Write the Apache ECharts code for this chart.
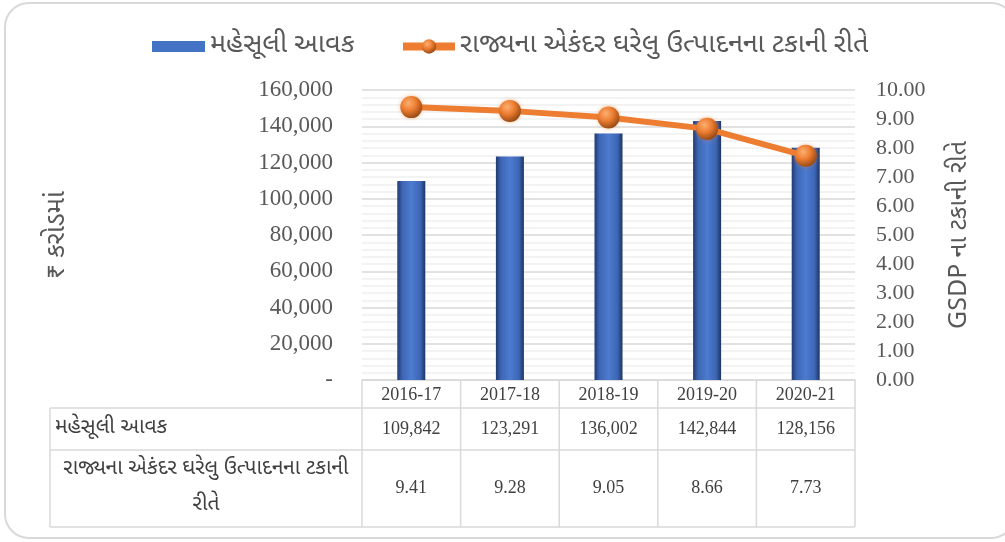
<!DOCTYPE html>
<html lang="gu">
<head>
    <meta charset="UTF-8">
    <title>મહેસૂલી આવક</title>
    <style>
        html, body { margin: 0; padding: 0; background: #fff; }
        #chart { width: 1005px; height: 542px; }
    </style>
</head>
<body>
    <div id="chart"></div>
    <script src="https://cdn.jsdelivr.net/npm/echarts@6/dist/echarts.min.js"></script>
    <script>
        // ડેટા
        let years = ['2016-17', '2017-18', '2018-19', '2019-20', '2020-21'];
        let revenue = [109842, 123291, 136002, 142844, 128156];
        let gsdpPct = [9.41, 9.28, 9.05, 8.66, 7.73];
        let seriesNames = ['મહેસૂલી આવક', 'રાજ્યના એકંદર ઘરેલુ ઉત્પાદનના ટકાની રીતે'];
        let rowLabels = ['મહેસૂલી આવક', 'રાજ્યના એકંદર ઘરેલુ ઉત્પાદનના ટકાની\nરીતે'];
        let leftAxisName = '₹ કરોડમાં';
        let rightAxisName = 'GSDP ના ટકાની રીતે';

        let guFont = '"Noto Sans Gujarati", "Noto Sans", sans-serif';
        let numFont = '"Liberation Serif", "DejaVu Serif", serif';

        let myChart = echarts.init(document.getElementById('chart'));

        let barColor = new echarts.graphic.LinearGradient(0, 0, 1, 0, [
            { offset: 0, color: '#1f3a70' },
            { offset: 0.18, color: '#3d66b4' },
            { offset: 0.5, color: '#4d7bd0' },
            { offset: 0.82, color: '#3d66b4' },
            { offset: 1, color: '#1c3464' }
        ]);
        let ballColor = new echarts.graphic.RadialGradient(0.38, 0.32, 0.75, [
            { offset: 0, color: '#fbb072' },
            { offset: 0.45, color: '#ed7d31' },
            { offset: 1, color: '#8a4210' }
        ]);

        let legendText = { fontFamily: guFont, fontSize: 27, color: '#595959' };

        let option = {
            animation: false,
            legend: [
                {
                    left: 147,
                    top: 28,
                    itemWidth: 53,
                    itemHeight: 11,
                    itemGap: 5,
                    textStyle: legendText,
                    data: [{ name: seriesNames[0], icon: 'rect', itemStyle: { color: '#4472c4' } }]
                },
                {
                    left: 394,
                    top: 28,
                    itemWidth: 52,
                    itemHeight: 18,
                    itemGap: 5,
                    textStyle: legendText,
                    lineStyle: { width: 8 },
                    data: [{ name: seriesNames[1] }]
                }
            ],
            grid: { left: 362, right: 150, top: 90, bottom: 162, containLabel: false },
            xAxis: {
                type: 'category',
                data: years,
                boundaryGap: true,
                axisLine: { lineStyle: { color: '#d9d9d9', width: 1.5 } },
                axisTick: { show: false },
                axisLabel: { margin: 6, fontFamily: numFont, fontSize: 18, color: '#404040' }
            },
            yAxis: [
                {
                    type: 'value',
                    min: 0,
                    max: 160000,
                    interval: 20000,
                    name: leftAxisName,
                    nameLocation: 'middle',
                    nameRotate: 90,
                    nameGap: 290,
                    nameTextStyle: { fontFamily: guFont, fontSize: 26, color: '#595959' },
                    axisLine: { show: false },
                    axisTick: { show: false },
                    axisLabel: {
                        margin: 29,
                        fontFamily: numFont,
                        fontSize: 23,
                        color: '#595959',
                        formatter: function (v) { return v === 0 ? '-' : v.toLocaleString('en-US'); }
                    },
                    splitLine: { lineStyle: { color: '#d9d9d9', width: 1.5 } },
                    minorTick: { show: false, splitNumber: 5 },
                    minorSplitLine: { show: true, lineStyle: { color: '#efefef', width: 1.5 } }
                },
                {
                    type: 'value',
                    min: 0,
                    max: 10,
                    interval: 1,
                    name: rightAxisName,
                    nameLocation: 'middle',
                    nameRotate: 90,
                    nameGap: 94,
                    nameTextStyle: { fontFamily: guFont, fontSize: 25, color: '#595959' },
                    axisLine: { show: false },
                    axisTick: { show: false },
                    axisLabel: {
                        margin: 21,
                        fontFamily: numFont,
                        fontSize: 22,
                        color: '#595959',
                        formatter: function (v) { return v.toFixed(2); }
                    },
                    splitLine: { show: false }
                }
            ],
            series: [
                {
                    name: seriesNames[0],
                    type: 'bar',
                    yAxisIndex: 0,
                    barWidth: 28,
                    data: revenue,
                    itemStyle: { color: barColor, shadowColor: 'rgba(0,0,0,0.25)', shadowBlur: 3, shadowOffsetX: 1 }
                },
                {
                    name: seriesNames[1],
                    type: 'line',
                    yAxisIndex: 1,
                    data: gsdpPct,
                    symbol: 'circle',
                    symbolSize: 22,
                    lineStyle: { color: '#ed7d31', width: 6 },
                    itemStyle: { color: ballColor, shadowColor: 'rgba(237,125,49,0.5)', shadowBlur: 4 },
                    z: 5
                }
            ]
        };

        myChart.setOption(option);

        // ડેટા ટેબલ
        function drawTable() {
            let band = myChart.convertToPixel({ xAxisIndex: 0 }, years[1]) - myChart.convertToPixel({ xAxisIndex: 0 }, years[0]);
            let centers = years.map(function (y) { return myChart.convertToPixel({ xAxisIndex: 0 }, y); });
            let x0 = centers[0] - band / 2;
            let x1 = centers[centers.length - 1] + band / 2;
            let yAxis0 = myChart.convertToPixel({ yAxisIndex: 0 }, 0);
            let tableLeft = 50;
            let rowTops = [yAxis0, yAxis0 + 28, yAxis0 + 70, yAxis0 + 147];
            let lineStyle = { stroke: '#d9d9d9', lineWidth: 1.5 };
            let els = [];

            // આડી રેખાઓ
            for (let i = 1; i < rowTops.length; i++) {
                els.push({ type: 'line', shape: { x1: tableLeft, y1: rowTops[i], x2: x1, y2: rowTops[i] }, style: lineStyle });
            }
            // ઊભી રેખાઓ
            for (let i = 0; i <= years.length; i++) {
                let x = x0 + i * band;
                els.push({ type: 'line', shape: { x1: x, y1: rowTops[0], x2: x, y2: rowTops[3] }, style: lineStyle });
            }
            els.push({ type: 'line', shape: { x1: tableLeft, y1: rowTops[1], x2: tableLeft, y2: rowTops[3] }, style: lineStyle });

            // પંક્તિ લેબલ
            els.push({
                type: 'text', x: tableLeft + 5, y: (rowTops[1] + rowTops[2]) / 2,
                style: { text: rowLabels[0], font: '21px ' + guFont, fill: '#404040', verticalAlign: 'middle', align: 'left' }
            });
            els.push({
                type: 'text', x: (tableLeft + x0) / 2, y: (rowTops[2] + rowTops[3]) / 2,
                style: { text: rowLabels[1], font: '21px ' + guFont, fill: '#404040', verticalAlign: 'middle', align: 'center', lineHeight: 36 }
            });

            // કિંમતો
            centers.forEach(function (cx, i) {
                els.push({
                    type: 'text', x: cx, y: (rowTops[1] + rowTops[2]) / 2,
                    style: { text: revenue[i].toLocaleString('en-US'), font: '18px ' + numFont, fill: '#404040', verticalAlign: 'middle', align: 'center' }
                });
                els.push({
                    type: 'text', x: cx, y: (rowTops[2] + rowTops[3]) / 2,
                    style: { text: gsdpPct[i].toFixed(2), font: '18px ' + numFont, fill: '#404040', verticalAlign: 'middle', align: 'center' }
                });
            });

            // બહારની કિનારી
            els.push({
                type: 'rect', z: -1,
                shape: { x: 5, y: 3, width: 1010, height: 535, r: 24 },
                style: { fill: 'none', stroke: '#d9d9d9', lineWidth: 2 }
            });

            myChart.setOption({ graphic: els });
        }

        drawTable();
    </script>
</body>
</html>
